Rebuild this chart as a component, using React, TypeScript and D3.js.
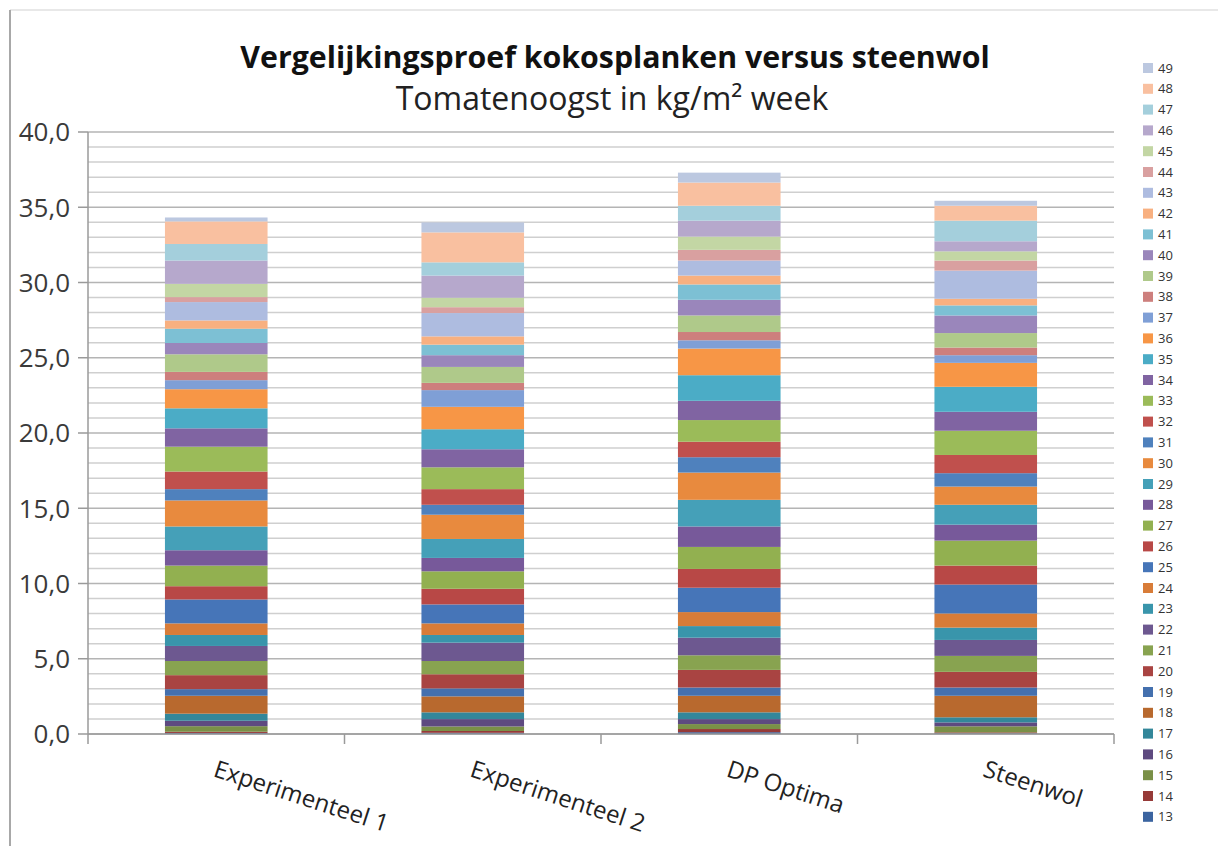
import React from "react";
import * as d3 from "d3";

const categories = ["Experimenteel 1", "Experimenteel 2", "DP Optima", "Steenwol"];
const weeks = [13,14,15,16,17,18,19,20,21,22,23,24,25,26,27,28,29,30,31,32,33,34,35,36,37,38,39,40,41,42,43,44,45,46,47,48,49];

// kg/m² per week, one array per bar (weeks 13..49)
const exp1 = [0.07,0.08,0.37,0.36,0.47,1.19,0.44,0.93,0.94,1.00,0.73,0.77,1.59,0.88,1.37,1.02,1.58,1.73,0.75,1.17,1.65,1.22,1.33,1.27,0.60,0.55,1.17,0.75,0.95,0.55,1.22,0.33,0.88,1.55,1.10,1.50,0.26];
const exp2 = [0.08,0.12,0.30,0.49,0.45,1.06,0.53,0.94,0.88,1.22,0.51,0.77,1.26,1.04,1.16,0.89,1.26,1.61,0.66,1.04,1.45,1.20,1.33,1.49,1.11,0.48,1.06,0.78,0.70,0.55,1.55,0.39,0.63,1.47,0.88,1.99,0.66];
const dpOptima = [0.12,0.21,0.33,0.33,0.45,1.10,0.55,1.17,0.97,1.17,0.77,0.93,1.62,1.25,1.46,1.36,1.77,1.81,1.02,1.03,1.44,1.28,1.70,1.77,0.55,0.55,1.10,1.04,1.02,0.59,1.00,0.71,0.88,1.06,0.99,1.54,0.66];
const steenwol = [0.05,0.06,0.40,0.26,0.34,1.43,0.55,1.04,1.06,1.06,0.82,0.94,1.92,1.26,1.66,1.06,1.32,1.21,0.89,1.21,1.61,1.26,1.66,1.59,0.51,0.51,0.96,1.17,0.67,0.44,1.87,0.67,0.61,0.67,1.37,0.99,0.33];

const seriesColors = [
  "#3B64A0","#963A38","#7A9047","#5E4A80","#33879A","#B8692E",
  "#4470AE","#A94442","#88A350","#6D5890","#3995AB","#D87C38",
  "#4675B8","#B84846","#92B050","#77599A","#45A0B8","#E88A3E",
  "#4F81BD","#C0504D","#9BBB59","#8064A2","#4BACC6","#F79646",
  "#7F9FD6","#CD7F7D","#AFC98A","#9A86BB","#7DC0D4","#F8B080",
  "#AEBCE0","#D9A0A0","#C3D6A4","#B6A8CC","#A4CFDC","#F9C0A0",
  "#BCC8E0"
];

const yTicks = [0, 5, 10, 15, 20, 25, 30, 35, 40];
const yMinor = d3.range(0, 41, 1);

export default function App() {
  const W = 1218, H = 846;
  const left = 88, right = 1114, top = 132, bottom = 734;
  const font = "'Open Sans', 'Liberation Sans', sans-serif";

  const values = [exp1, exp2, dpOptima, steenwol];
  const table = categories.map((c, i) => {
    const row: any = { cat: c };
    weeks.forEach((w, j) => (row["w" + w] = values[i][j]));
    return row;
  });
  const keys = weeks.map((w) => "w" + w);
  const stacked = d3.stack().keys(keys)(table);

  const x = d3.scaleBand().domain(categories).range([left, right]).paddingInner(0.6).paddingOuter(0.3);
  const y = d3.scaleLinear().domain([0, 40]).range([bottom, top]);
  const step = x.step();

  const legendTop = 68, legendStep = 20.8;

  return (
    <svg width={W} height={H} style={{ position: "absolute", left: 0, top: 0, background: "#fff" }}>
      <rect x={0} y={0} width={W} height={H} fill="#fff" />
      <line x1={10} y1={10} x2={W} y2={10} stroke="#e0e0e0" strokeWidth={1.5} />
      <line x1={10} y1={10} x2={10} y2={H} stroke="#a8a8a8" strokeWidth={2} />

      <text x={615} y={68} textAnchor="middle" fontFamily={font} fontWeight="bold" fontSize={30.3} fill="#111">
        Vergelijkingsproef kokosplanken versus steenwol
      </text>
      <text x={612} y={110} textAnchor="middle" fontFamily={font} fontSize={32} fill="#222">
        Tomatenoogst in kg/m² week
      </text>

      {yMinor.map((v) => (
        <line key={"g" + v} x1={left} x2={right} y1={y(v)} y2={y(v)}
          stroke={v % 5 === 0 ? "#b4b4b4" : "#cfcfcf"} strokeWidth={1.5} />
      ))}
      {yTicks.map((v) => (
        <g key={"t" + v}>
          <line x1={left - 10} x2={left} y1={y(v)} y2={y(v)} stroke="#9a9a9a" strokeWidth={1.5} />
          <text x={70} y={y(v)} dy="0.36em" textAnchor="end" fontFamily={font} fontSize={26} fill="#3a3a3a">
            {d3.format(".1f")(v).replace(".", ",")}
          </text>
        </g>
      ))}
      <line x1={left} x2={left} y1={top} y2={bottom} stroke="#9a9a9a" strokeWidth={1.5} />

      {stacked.map((s, si) => (
        <g key={s.key} fill={seriesColors[si]}>
          {s.map((d, ci) => (
            <rect key={ci} x={x(categories[ci]) as number} width={x.bandwidth()}
              y={y(d[1])} height={Math.max(0, y(d[0]) - y(d[1]))} />
          ))}
        </g>
      ))}

      <line x1={left} x2={right} y1={bottom} y2={bottom} stroke="#9a9a9a" strokeWidth={1.5} />
      {d3.range(categories.length + 1).map((i) => (
        <line key={"xt" + i} x1={left + i * step} x2={left + i * step} y1={bottom} y2={bottom + 10} stroke="#9a9a9a" strokeWidth={1.5} />
      ))}
      {categories.map((c) => {
        const cx = (x(c) as number) + x.bandwidth() / 2;
        return (
          <text key={c} transform={`translate(${cx - 4},${bottom + 42}) rotate(18)`} fontFamily={font} fontSize={24} fill="#222">
            {c}
          </text>
        );
      })}

      {weeks.slice().reverse().map((w, i) => {
        const si = weeks.length - 1 - i;
        const ly = legendTop + i * legendStep;
        return (
          <g key={"l" + w}>
            <rect x={1143} y={ly - 5} width={10} height={10} fill={seriesColors[si]} />
            <text x={1158} y={ly} dy="0.35em" fontFamily={font} fontSize={13} fill="#333">{w}</text>
          </g>
        );
      })}
    </svg>
  );
}
